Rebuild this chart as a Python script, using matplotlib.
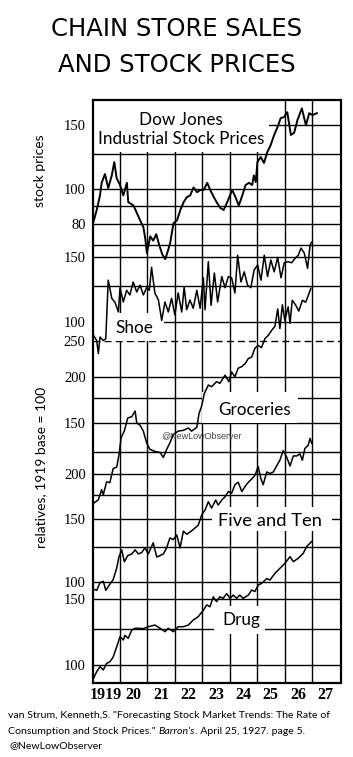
import matplotlib.pyplot as plt
from matplotlib.patches import Rectangle
from matplotlib.ticker import NullLocator

# values: decimal year, index value
dow_year = [1919.02, 1919.15, 1919.27, 1919.33, 1919.45, 1919.57, 1919.70, 1919.79, 1919.88,
            1920.00, 1920.12, 1920.25, 1920.30, 1920.49, 1920.61, 1920.73, 1920.85, 1920.92, 1920.98,
            1921.10, 1921.21, 1921.32, 1921.43, 1921.54, 1921.65, 1921.76, 1921.83, 1921.95,
            1922.08, 1922.20, 1922.32, 1922.44, 1922.56, 1922.68, 1922.81, 1922.93,
            1923.05, 1923.18, 1923.30, 1923.42, 1923.54, 1923.66, 1923.78, 1923.91,
            1924.09, 1924.21, 1924.33, 1924.46, 1924.58, 1924.70, 1924.82, 1924.88, 1924.95,
            1925.01, 1925.13, 1925.25, 1925.37, 1925.49, 1925.62, 1925.74, 1925.86, 1925.98,
            1926.10, 1926.23, 1926.35, 1926.47, 1926.63, 1926.78, 1926.90, 1927.02, 1927.18]
dow_val = [80.6, 87.5, 96, 104, 110, 100.6, 109, 118.7, 107,
           102.6, 96, 104, 92, 90, 86, 82, 78.5, 73, 66.5,
           74, 72, 75, 70, 66, 64, 68, 71, 80.5,
           82, 87.5, 92, 95, 96, 101, 98, 99.4,
           99.4, 104, 99, 95, 91.5, 88.6, 87.5, 92,
           99.4, 95, 90, 96, 102.6, 104, 102.6, 109, 104.5,
           118.7, 122.6, 118, 126.5, 132, 141, 148, 157, 158,
           163, 141, 143, 155, 167, 150, 162, 160, 162]

shoe_year = [1919.03, 1919.15, 1919.21, 1919.27, 1919.39, 1919.48, 1919.57, 1919.70, 1919.82, 1919.94,
             1920.00, 1920.12, 1920.24, 1920.36, 1920.48, 1920.61, 1920.73, 1920.85, 1920.97,
             1921.07, 1921.15, 1921.27, 1921.40, 1921.52, 1921.64, 1921.76, 1921.88,
             1922.00, 1922.12, 1922.25, 1922.34, 1922.43, 1922.55, 1922.67, 1922.80, 1922.92,
             1923.04, 1923.10, 1923.22, 1923.32, 1923.44, 1923.56, 1923.71, 1923.83, 1923.95,
             1924.07, 1924.19, 1924.29, 1924.41, 1924.53, 1924.65, 1924.77, 1924.89,
             1925.02, 1925.14, 1925.26, 1925.38, 1925.50, 1925.62, 1925.75, 1925.87, 1925.99,
             1926.13, 1926.26, 1926.38, 1926.50, 1926.60, 1926.72, 1926.84, 1926.93, 1926.99]
shoe_val = [92, 89, 82, 91, 89, 90, 130, 116, 113, 106.5,
            124, 113.4, 122, 118.5, 128.5, 120.7, 126, 118.5, 124,
            122, 141, 120, 114.8, 101, 113.4, 106.5, 116,
            104.5, 120, 106.5, 124.6, 108, 114.8, 109, 122, 109,
            132, 108, 146, 111, 136, 113.4, 133, 124, 133,
            132, 120, 152, 128.5, 137, 126, 124, 138.6,
            143, 130, 152, 133, 147.6, 137, 150, 132, 145,
            146, 145, 149, 152, 159, 154, 140, 162, 165]

groc_year = [1919.03, 1919.21, 1919.33, 1919.39, 1919.51, 1919.63, 1919.75, 1919.88, 1919.97,
             1920.04, 1920.16, 1920.28, 1920.43, 1920.55, 1920.61, 1920.73, 1920.85, 1920.97,
             1921.09, 1921.27, 1921.46, 1921.58, 1921.70, 1921.82, 1921.94,
             1922.12, 1922.31, 1922.49, 1922.61, 1922.80, 1922.88, 1922.98,
             1923.07, 1923.22, 1923.34, 1923.52, 1923.64, 1923.83, 1923.97,
             1924.07, 1924.19, 1924.31, 1924.44, 1924.56, 1924.68, 1924.80, 1924.92,
             1925.04, 1925.16, 1925.29, 1925.41, 1925.53, 1925.65, 1925.75, 1925.83, 1925.92,
             1926.01, 1926.13, 1926.20, 1926.28, 1926.40, 1926.52, 1926.65, 1926.77, 1926.86, 1926.96]
groc_val = [91, 93, 99, 96, 104, 103.5, 113, 114, 124,
            137, 143, 154.7, 156, 161.6, 150, 148, 142.6, 132.6,
            127.3, 125.7, 124.8, 121, 127.3, 132.6, 139.5,
            142.6, 143.3, 145.4, 142.6, 146, 159, 167,
            180, 190, 188, 194, 192, 202, 194,
            206, 200, 211, 213, 217, 224, 226, 239,
            243, 240, 254, 259, 267, 274, 305, 270, 313,
            284, 309, 279, 322, 313, 301, 322, 318, 331, 347]

five_year = [1919.03, 1919.15, 1919.27, 1919.39, 1919.48, 1919.63, 1919.75, 1919.88, 1919.96,
             1920.06, 1920.16, 1920.28, 1920.43, 1920.55, 1920.67, 1920.79, 1920.91,
             1921.03, 1921.21, 1921.34, 1921.46, 1921.58, 1921.70, 1921.82, 1921.94,
             1922.07, 1922.19, 1922.31, 1922.44, 1922.61, 1922.85, 1922.98,
             1923.10, 1923.22, 1923.34, 1923.49, 1923.58, 1923.71, 1923.83, 1923.95,
             1924.07, 1924.19, 1924.31, 1924.44, 1924.56, 1924.68, 1924.80, 1924.92,
             1925.04, 1925.14, 1925.22, 1925.35, 1925.47, 1925.59, 1925.71, 1925.83, 1925.95,
             1926.08, 1926.20, 1926.32, 1926.44, 1926.56, 1926.65, 1926.74, 1926.86, 1926.93, 1926.99]
five_val = [95.5, 94.8, 99.6, 100.5, 94.8, 98.6, 101.6, 109.5, 117.5,
            123, 113.9, 118.5, 119.8, 123, 119.8, 120.9, 124.6,
            119.8, 128.7, 117.5, 118.5, 119.8, 124.6, 132.8, 131.3,
            135.4, 124.6, 138.7, 136, 139, 144, 154,
            159, 167.6, 161, 169.5, 164, 169.5, 173, 179,
            177, 187, 190, 179, 185, 190, 194, 198.6,
            210, 194, 187, 203, 201, 203, 211, 219, 233,
            223, 211, 225, 225, 228, 219, 236, 241, 252, 244]

drug_year = [1919.03, 1919.15, 1919.27, 1919.39, 1919.51, 1919.63, 1919.75, 1919.88,
             1920.00, 1920.12, 1920.18, 1920.30, 1920.43, 1920.55, 1920.67, 1920.85,
             1921.03, 1921.27, 1921.46, 1921.64, 1921.76, 1921.94,
             1922.12, 1922.31, 1922.49, 1922.67, 1922.85,
             1923.04, 1923.16, 1923.28, 1923.40, 1923.52, 1923.64, 1923.76, 1923.89,
             1924.01, 1924.13, 1924.25, 1924.37, 1924.49, 1924.68, 1924.80, 1924.92,
             1925.04, 1925.16, 1925.35, 1925.47, 1925.65, 1925.83,
             1926.01, 1926.20, 1926.32, 1926.50, 1926.68, 1926.81, 1926.99]
drug_val = [92, 96, 99, 97, 101, 102, 105, 111.9,
            119, 116.6, 120, 117.8, 124, 125.3, 125.3, 125,
            126.5, 127.8, 125.3, 122.7, 125.3, 122.7,
            126.5, 126.5, 127.8, 131.8, 134.5,
            140, 144.6, 143, 152, 147.5, 152, 150.6, 155,
            150.6, 153.6, 150.6, 153.6, 150.6, 153.6, 158.5, 157,
            163.4, 165, 170, 168.5, 175.6, 181,
            186.6, 194.5, 188.6, 192.6, 198.5, 207, 213.5]

years = [1919, 1920, 1921, 1922, 1923, 1924, 1925, 1926, 1927]
year_labels = ['1919', '20', '21', '22', '23', '24', '25', '26', '27']

# pixel layout of the scanned frame
W, H = 353, 757
L, R, T, B = 92.6, 340.5, 100, 683
X0, X1 = 1919, 1928.04

fig = plt.figure(figsize=(W / 100, H / 100), dpi=100)
rect = [L / W, 1 - B / H, (R - L) / W, (B - T) / H]


def new_axes(z):
    ax = fig.add_axes(rect, zorder=z)
    ax.set_facecolor('none')
    ax.set_xlim(X0, X1)
    for s in ax.spines.values():
        s.set_visible(False)
    ax.set_xticks([])
    ax.set_yticks([])
    return ax


def log_panel(ax, ref, px, k):
    # ref value sits at pixel row px, k pixels per decade
    ax.set_yscale('log')
    ax.set_ylim(ref * 10 ** ((px - B) / k), ref * 10 ** ((px - T) / k))
    ax.yaxis.set_minor_locator(NullLocator())


panels = [
    # series, ref, px, k, gridlines, tick labels, line width
    (dow_year, dow_val, 100, 189, 362, [150, 125, 100, 90, 80, 70], [150, 100, 80], 1.4),
    (shoe_year, shoe_val, 100, 322, 367, [150, 125, 100], [150, 100], 1.1),
    (groc_year, groc_val, 150, 423, 370, [250, 200, 175, 150, 125], [250, 200, 150], 1.1),
    (five_year, five_val, 150, 519, 358, [200, 175, 150, 125, 100], [200, 150, 100], 1.1),
    (drug_year, drug_val, 100, 665, 375, [150, 125, 100], [150, 100], 1.1),
]

# grid layer
base = new_axes(1)
for yr in years[1:]:
    base.axvline(yr, color='black', lw=1.0)
base.set_xticks([y + 0.5 for y in years])
base.set_xticklabels(year_labels, family='Liberation Serif', fontsize=11.5, weight='bold')
base.tick_params(axis='x', length=0, pad=3)

for yrs, vals, ref, px, k, grid, ticks, lw in panels:
    g = new_axes(1)
    log_panel(g, ref, px, k)
    for v in grid:
        ls = (0, (5, 3)) if (v == 250) else '-'
        g.axhline(v, color='black', lw=1.0, ls=ls)
    g.set_yticks(ticks)
    g.set_yticklabels([str(t) for t in ticks], family='Liberation Serif', fontsize=10.5)
    g.tick_params(axis='y', length=0, pad=5)

# label layer, in pixel coordinates
ov = fig.add_axes([0, 0, 1, 1], zorder=2)
ov.set_xlim(0, W)
ov.set_ylim(H, 0)
ov.axis('off')

white = dict(color='white', lw=0)
ov.add_patch(Rectangle((L + 1, T + 1), 268 - L, 150.5 - T, **white))
ov.add_patch(Rectangle((L + 1, 313), 163 - L, 28, **white))
ov.add_patch(Rectangle((202, 392), 96, 31, **white))
ov.add_patch(Rectangle((212, 507), 120, 24, **white))
ov.add_patch(Rectangle((214, 606), 51, 28, **white))

lab = dict(family='Lato', fontsize=12.3, color='black', va='center')
ov.text(181, 120, 'Dow Jones', ha='center', **lab)
ov.text(181, 139, 'Industrial Stock Prices', ha='center', **lab)
ov.text(115, 328, 'Shoe', ha='left', **lab)
ov.text(218, 410, 'Groceries', ha='left', **lab)
ov.text(218, 521, 'Five and Ten', ha='left', family='Lato', fontsize=13.2, va='center')
ov.text(222, 620, 'Drug', ha='left', **lab)

ov.text(202, 436, '@NewLowObserver', family='Liberation Sans', fontsize=6.5,
        color='#444444', ha='center', va='center')

title = dict(family='DejaVu Sans', fontsize=17.5, ha='center', va='center')
ov.text(177, 29, 'CHAIN STORE SALES', **title)
ov.text(177, 65, 'AND STOCK PRICES', **title)

ov.text(40, 171, 'stock prices', family='Lato', fontsize=10, rotation=90,
        ha='center', va='center')
ov.text(41, 467, 'relatives, 1919 base = 100', family='Lato', fontsize=10, rotation=90,
        ha='center', va='center')

cite = dict(family='Lato', fontsize=7.55, va='center')
ov.text(8, 715, 'van Strum, Kenneth,S. "Forecasting Stock Market Trends: The Rate of', **cite)
t1 = ov.text(8, 731, 'Consumption and Stock Prices." ', **cite)
t2 = ov.annotate("Barron's", xy=(1, 0), xycoords=t1, va='bottom', style='italic',
                 family='Lato', fontsize=7.55)
ov.annotate('. April 25, 1927. page 5.', xy=(1, 0), xycoords=t2, va='bottom',
            family='Lato', fontsize=7.55)
ov.text(10, 746, '@NewLowObserver', **cite)

# data layer
for yrs, vals, ref, px, k, grid, ticks, lw in panels:
    d = new_axes(3)
    log_panel(d, ref, px, k)
    d.set_yticks([])
    d.plot(yrs, vals, color='black', lw=lw)

# frame on top
fr = new_axes(4)
for s in fr.spines.values():
    s.set_visible(True)
    s.set_linewidth(1.6)

fig.savefig('out.png', dpi=100)
